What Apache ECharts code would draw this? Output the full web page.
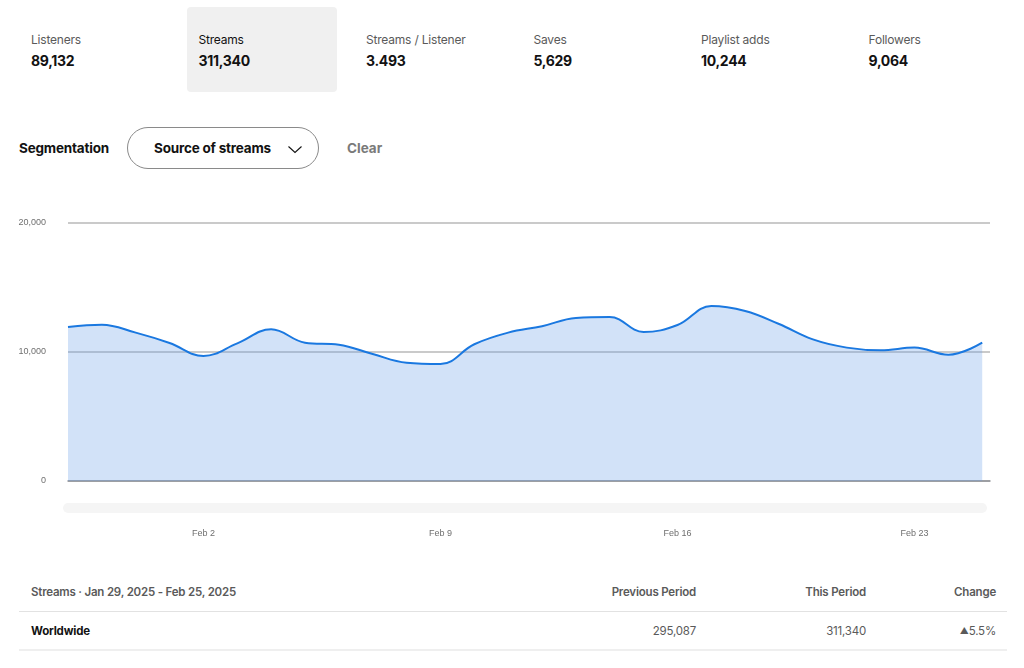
<!DOCTYPE html>
<html>
<head>
<meta charset="utf-8">
<script src="https://cdn.jsdelivr.net/npm/echarts@6/dist/echarts.min.js"></script>
<style>
  body { margin: 0; background: #fff; font-family: 'Inter', 'Noto Sans', sans-serif; color: #121212; }
  #page { position: relative; width: 1024px; height: 668px; overflow: hidden; }
  .tile { position: absolute; top: 7px; width: 150px; height: 85px; border-radius: 4px; }
  .tile.sel { background: #f0f0f0; }
  .tile .lbl { position: absolute; left: 12px; top: 25px; font-size: 12px; letter-spacing: -0.2px; color: #5a5a5a; white-space: nowrap; }
  .tile.sel .lbl { color: #121212; }
  .tile .val { position: absolute; left: 12px; top: 45px; font-size: 14px; letter-spacing: -0.3px; font-weight: 700; white-space: nowrap; }
  .abs { position: absolute; white-space: nowrap; }
  #seg { left: 19px; top: 140px; font-size: 13.5px; font-weight: 700; letter-spacing: -0.2px; }
  #pill { position: absolute; left: 127px; top: 127px; width: 190px; height: 40px; border: 1px solid #8a8a8a; border-radius: 21px; }
  #pill span { position: absolute; left: 26px; top: 12px; font-size: 13.5px; font-weight: 700; letter-spacing: -0.2px; white-space: nowrap; }
  #pill svg { position: absolute; left: 159px; top: 17px; }
  #clear { left: 347px; top: 140px; font-size: 13.5px; font-weight: 700; color: #7a7a7a; }
  #chart { position: absolute; left: 0; top: 190px; width: 1024px; height: 360px; }
  .th { top: 585px; font-size: 11.5px; font-weight: 600; letter-spacing: -0.2px; color: #5a5a5a; }
  .td { top: 624px; font-size: 11.5px; letter-spacing: -0.2px; color: #5a5a5a; }
  .r { text-align: right; }
  .hr { position: absolute; left: 19px; width: 988px; background: #e2e2e2; }
</style>
</head>
<body>
<div id="page">
  <div id="tiles"></div>
  <div id="seg" class="abs">Segmentation</div>
  <div id="pill"><span>Source of streams</span>
    <svg width="16" height="9" viewBox="0 0 16 9"><path d="M1.5 1.5 L8 7.5 L14.5 1.5" fill="none" stroke="#121212" stroke-width="1.1"/></svg>
  </div>
  <div id="clear" class="abs">Clear</div>
  <div id="chart"></div>
  <div class="abs th" style="left:31px">Streams · Jan 29, 2025 - Feb 25, 2025</div>
  <div class="abs th r" style="right:328px">Previous Period</div>
  <div class="abs th r" style="right:158px">This Period</div>
  <div class="abs th r" style="right:28px">Change</div>
  <div class="hr" style="top:611px;height:1px"></div>
  <div class="abs td" style="left:31px;color:#121212;font-weight:700">Worldwide</div>
  <div class="abs td r" style="right:328px">295,087</div>
  <div class="abs td r" style="right:158px">311,340</div>
  <div class="abs td r" style="right:28px"><span style="font-size:9px;position:relative;top:-1px">&#9650;</span>5.5%</div>
  <div class="hr" style="top:649px;height:2px;background:#efefef"></div>
</div>
<script>
// stat tiles
var statNames = ['Listeners', 'Streams', 'Streams / Listener', 'Saves', 'Playlist adds', 'Followers'];
var statValues = ['89,132', '311,340', '3.493', '5,629', '10,244', '9,064'];
var selected = 1;

var html = '';
for (var i = 0; i < statNames.length; i++) {
    var left = 19 + i * 167.5;
    html += '<div class="tile' + (i == selected ? ' sel' : '') + '" style="left:' + left + 'px">' +
        '<div class="lbl">' + statNames[i] + '</div><div class="val">' + statValues[i] + '</div></div>';
}
document.getElementById('tiles').innerHTML = html;

// daily streams, Jan 29 - Feb 25 2025
var days = ['Jan 29','Jan 30','Jan 31','Feb 1','Feb 2','Feb 3','Feb 4','Feb 5','Feb 6','Feb 7',
    'Feb 8','Feb 9','Feb 10','Feb 11','Feb 12','Feb 13','Feb 14','Feb 15','Feb 16','Feb 17',
    'Feb 18','Feb 19','Feb 20','Feb 21','Feb 22','Feb 23','Feb 24','Feb 25'];
var streams = [11940, 12120, 11500, 10700, 9690, 10670, 11760, 10720, 10570, 9840,
    9170, 9070, 10600, 11500, 12000, 12640, 12710, 11550, 12090, 13570,
    13180, 12170, 10980, 10340, 10130, 10340, 9790, 10720];
var tickDays = [4, 11, 18, 25];

var seriesData = streams.map(function (v, i) { return [i, v]; });

var myChart = echarts.init(document.getElementById('chart'));
option = {
    animation: false,
    grid: {
        left: 68,
        right: 34,
        top: 33,
        bottom: 69
    },
    xAxis: {
        type: 'value',
        min: 0,
        max: 27.23,
        axisLine: { show: true, lineStyle: { color: '#8e9196', width: 1.5 } },
        axisTick: { show: false },
        splitLine: { show: false },
        axisLabel: {
            customValues: tickDays,
            margin: 48,
            fontSize: 9,
            color: '#6f6f6f',
            fontFamily: 'Liberation Sans',
            formatter: function (v) { return days[Math.round(v)]; }
        }
    },
    yAxis: {
        type: 'value',
        min: 0,
        max: 20000,
        interval: 10000,
        axisLine: { show: false },
        axisTick: { show: false },
        splitLine: { lineStyle: { color: '#b8b8b8', width: 1.5 } },
        axisLabel: {
            margin: 22,
            fontSize: 9,
            color: '#6f6f6f',
            fontFamily: 'Liberation Sans',
            formatter: function (v) { return v.toLocaleString('en-US'); }
        }
    },
    graphic: [
        {
            type: 'rect',
            left: 63,
            top: 313,
            shape: { width: 924, height: 10, r: 5 },
            style: { fill: '#f5f5f5' },
            silent: true
        }
    ],
    series: [
        {
            name: 'Streams',
            type: 'line',
            data: seriesData,
            smooth: 0.4,
            symbol: 'none',
            lineStyle: { color: '#1a78e0', width: 2 },
            areaStyle: { color: 'rgba(105,158,232,0.3)', opacity: 1 }
        }
    ]
};
myChart.setOption(option);
</script>
</body>
</html>
